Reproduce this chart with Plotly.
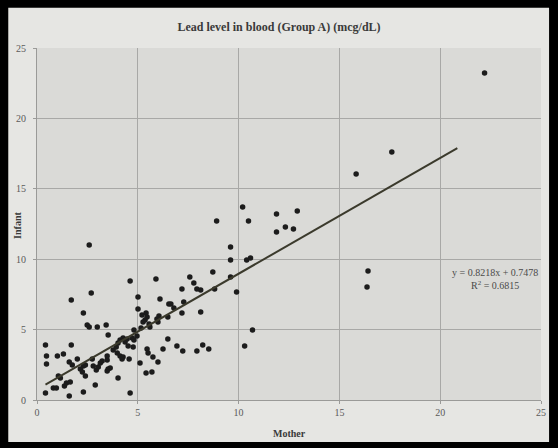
import plotly.graph_objects as go

# Data (Mother vs Infant blood lead, mcg/dL)
mother = [
    0.42, 0.47, 0.47, 0.42, 0.81, 0.96, 1.01, 1.31, 1.70, 1.36,
    1.46, 1.65, 1.16, 1.06, 1.60, 1.60, 1.75, 2.00, 2.15, 2.30,
    2.40, 2.25, 2.40, 2.30, 2.89, 2.79, 2.94, 3.04, 3.14, 3.23,
    2.74, 3.48, 3.53, 3.63, 3.48, 3.48, 4.02, 4.62, 3.53, 2.49,
    2.59, 2.99, 3.43, 1.70, 2.30, 2.69, 2.59, 4.62,
    3.78, 3.93, 4.02, 4.12, 4.27, 4.37, 4.47, 3.98, 4.12, 4.27,
    4.22, 4.57, 4.72, 4.81, 4.96, 4.52, 4.77, 4.81, 5.11, 5.46,
    5.51, 5.75, 6.00, 6.25, 5.41, 5.70, 6.49, 6.94, 7.23, 7.93,
    8.22, 8.52, 10.30, 10.69,
    5.21, 5.41, 5.46, 5.36, 5.26, 5.56, 5.60, 5.95, 6.05, 6.00,
    5.01, 5.01, 6.10, 5.90, 6.54, 6.64, 7.28, 6.79, 7.19, 8.12,
    6.49, 5.16,
    7.58, 7.78, 7.93, 8.12, 7.19, 8.72, 8.81, 9.60, 9.90, 9.60,
    9.60, 10.40, 10.59, 10.20, 8.91, 10.49, 11.88, 12.91, 12.32, 11.88,
    12.72,
    15.83, 17.60, 16.42, 16.37, 22.20,
]
infant = [
    3.91, 3.13, 2.56, 0.50, 0.85, 0.85, 3.13, 3.27, 3.91, 0.99,
    1.21, 1.28, 1.56, 1.70, 0.28, 2.70, 2.49, 2.91, 2.20, 2.41,
    2.49, 1.99, 1.70, 0.57, 1.07, 2.41, 2.13, 2.34, 2.63, 2.77,
    2.91, 2.06, 2.20, 2.27, 2.84, 3.13, 1.56, 0.50, 4.62, 5.33,
    5.18, 5.18, 5.33, 7.10, 6.18, 7.60, 11.01, 8.45,
    3.55, 3.76, 4.05, 4.26, 4.40, 4.12, 4.33, 3.34, 3.13, 3.05,
    2.91, 2.91, 4.40, 4.26, 4.55, 3.84, 3.76, 4.97, 2.63, 3.62,
    3.34, 3.05, 2.70, 3.62, 1.92, 1.99, 4.33, 3.84, 3.48, 3.48,
    3.91, 3.62, 3.84, 4.97,
    6.04, 6.18, 5.89, 5.68, 5.54, 5.40, 5.18, 5.75, 5.97, 5.54,
    6.46, 7.32, 7.17, 8.59, 6.82, 6.82, 6.96, 6.53, 6.18, 6.25,
    5.89, 5.11,
    8.74, 8.31, 7.88, 7.81, 7.88, 9.09, 7.88, 8.74, 7.67, 10.87,
    9.94, 9.94, 10.09, 13.71, 12.71, 12.71, 13.21, 13.42, 12.29, 11.93,
    12.14,
    16.05, 17.61, 9.16, 8.03, 23.22,
]

slope = 0.8218
intercept = 0.7478
r_squared = 0.6815
trend_x = [0.42, 20.85]
trend_y = [slope * v + intercept for v in trend_x]

tick_vals = [0, 5, 10, 15, 20, 25]

fig = go.Figure()
fig.add_trace(go.Scatter(
    x=mother, y=infant, mode="markers",
    marker=dict(symbol="circle", size=5.5, color="#1c1c1c"),
    showlegend=False, hoverinfo="x+y",
))
fig.add_trace(go.Scatter(
    x=trend_x, y=trend_y, mode="lines",
    line=dict(color="#3b3a2c", width=2),
    showlegend=False, hoverinfo="skip",
))

font_serif = "Liberation Serif, Times New Roman, serif"

fig.update_layout(
    width=558, height=448,
    margin=dict(l=37, r=15, t=48, b=48),
    paper_bgcolor="#000000",
    plot_bgcolor="rgba(0,0,0,0)",
    font=dict(family=font_serif, color="#555555", size=10),
    title=dict(text="<b>Lead level in blood (Group A) (mcg/dL)</b>",
               x=0.5, xanchor="center", y=0.94, yanchor="middle",
               font=dict(family=font_serif, size=12, color="#3a3a3a")),
    xaxis=dict(range=[0, 25], tickvals=tick_vals, showgrid=True,
               gridcolor="#a8a8a6", gridwidth=1, zeroline=False,
               showline=True, linecolor="#9a9a98", ticks="outside",
               ticklen=3, tickcolor="#9a9a98",
               tickfont=dict(size=10, color="#5a5a5a")),
    yaxis=dict(range=[0, 25], tickvals=tick_vals, showgrid=True,
               gridcolor="#a8a8a6", gridwidth=1, zeroline=False,
               showline=True, linecolor="#9a9a98", ticks="outside",
               ticklen=3, tickcolor="#9a9a98", ticklabelstandoff=5,
               tickfont=dict(size=10, color="#5a5a5a")),
    shapes=[
        dict(type="rect", xref="paper", yref="paper", layer="below",
             x0=-0.057, x1=1.016, y0=-0.119, y1=1.114,
             fillcolor="#e6e6e3", line=dict(width=0)),
        dict(type="rect", xref="paper", yref="paper", layer="below",
             x0=0, x1=1, y0=0, y1=1,
             fillcolor="#dadad7", line=dict(width=0)),
    ],
    annotations=[
        dict(x=22.7, y=8.6, xref="x", yref="y", showarrow=False,
             text=f"y = {slope}x + {intercept}<br>R<sup>2</sup> = {r_squared}",
             font=dict(family=font_serif, size=10, color="#4a4a4a"),
             align="center"),
        dict(x=0.5, y=-0.095, xref="paper", yref="paper", showarrow=False,
             text="<b>Mother</b>", yanchor="middle",
             font=dict(family=font_serif, size=10, color="#3a3a3a")),
        dict(x=-0.04, y=0.497, xref="paper", yref="paper", showarrow=False,
             text="<b>Infant</b>", textangle=-90, xanchor="center",
             font=dict(family=font_serif, size=10, color="#3a3a3a")),
    ],
)

fig.write_html("out.html")
